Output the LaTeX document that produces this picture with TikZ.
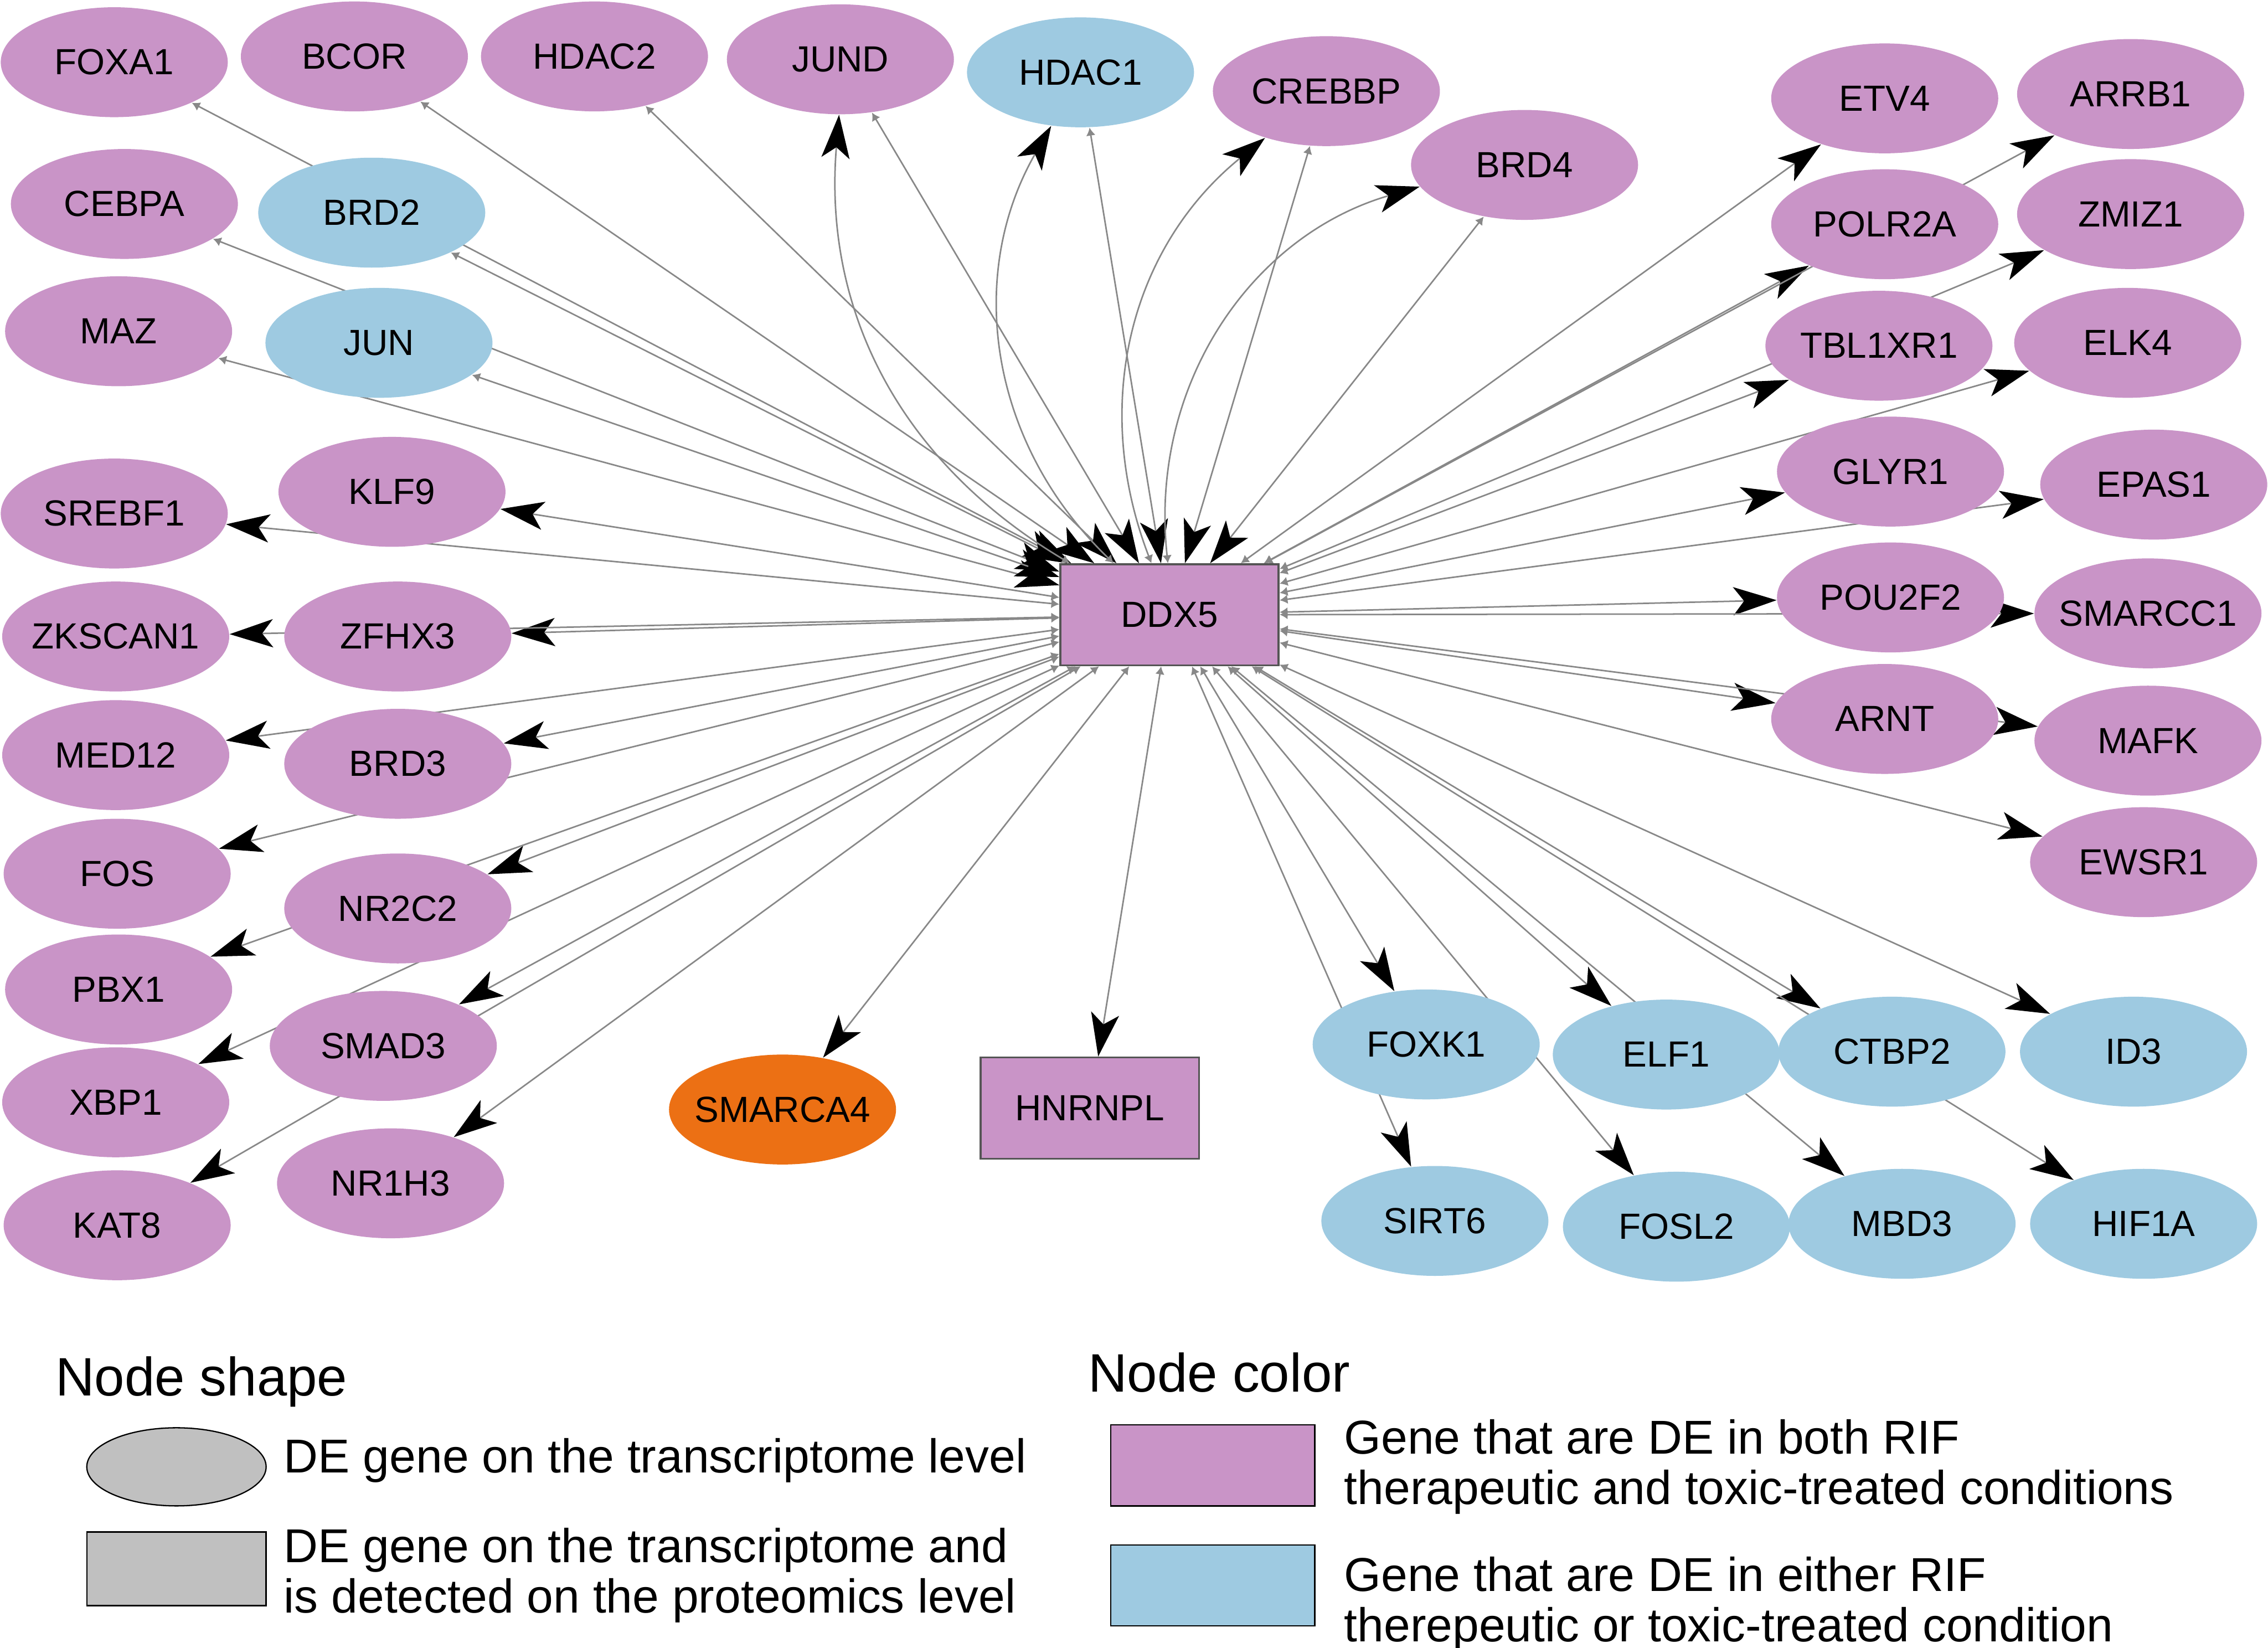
\documentclass[tikz,border=0pt]{standalone}
\usepackage{fontspec}
\setmainfont{Liberation Sans}
\usetikzlibrary{shapes.geometric, arrows.meta, backgrounds}
\definecolor{bothpurple}{RGB}{201, 148, 199}
\definecolor{eitherblue}{RGB}{158, 202, 225}
\definecolor{huborange}{RGB}{236, 112, 20}
\definecolor{linkgray}{RGB}{136, 136, 136}
\definecolor{legendgray}{RGB}{192, 192, 192}
\definecolor{borderdark}{RGB}{85, 85, 85}

\begin{document}
\begin{tikzpicture}[x=0.02cm, y=-0.02cm,
    gene/.style={ellipse, minimum width=3.14cm, minimum height=1.52cm, inner sep=0pt, font=\fontsize{14.3}{16}\selectfont},
    longname/.style={inner xsep=-1.3mm},
    prot/.style={rectangle, draw=borderdark, line width=0.75pt, minimum width=3.02cm, minimum height=1.4cm, inner sep=0pt, font=\fontsize{14.3}{16}\selectfont},
    both/.style={fill=bothpurple},
    either/.style={fill=eitherblue},
    link/.style={linkgray, line width=0.6pt, arrows={Latex[length=1.1mm, width=1.3mm]-Stealth[black, length=6mm, width=3.9mm, inset=1.5mm]}},
    legendhead/.style={inner sep=0pt, font=\fontsize{21.3}{24}\selectfont},
    legendtext/.style={inner sep=0pt, align=left, font=\fontsize{18.7}{19.9}\selectfont}]
    \useasboundingbox (0,0) rectangle (1568,1139);

    % Hub
    \node[prot, both] (ddx5) at (808.5,425) {DDX5};
    \node[prot, both] (hnrnpl) at (753.5,766) {HNRNPL};

    % Top rows
    \node[gene, both] (foxa1) at (79,43) {FOXA1};
    \node[gene, both] (bcor) at (245,39) {BCOR};
    \node[gene, both] (hdac2) at (411,39) {HDAC2};
    \node[gene, both] (jund) at (581,41) {JUND};
    \node[gene, either] (hdac1) at (747,50) {HDAC1};
    \node[gene, both] (crebbp) at (917,63) {CREBBP};
    \node[gene, both] (brd4) at (1054,114) {BRD4};
    \node[gene, both] (cebpa) at (86,141) {CEBPA};
    \node[gene, either] (brd2) at (257,147) {BRD2};
    \node[gene, both] (maz) at (82,229) {MAZ};
    \node[gene, either] (jun) at (262,237) {JUN};

    % Left side
    \node[gene, both] (srebf1) at (79,355) {SREBF1};
    \node[gene, both] (klf9) at (271,340) {KLF9};
    \node[gene, both, longname] (zkscan1) at (80,440) {ZKSCAN1};
    \node[gene, both] (zfhx3) at (275,440) {ZFHX3};
    \node[gene, both] (med12) at (80,522) {MED12};
    \node[gene, both] (brd3) at (275,528) {BRD3};
    \node[gene, both] (fos) at (81,604) {FOS};
    \node[gene, both] (nr2c2) at (275,628) {NR2C2};
    \node[gene, both] (pbx1) at (82,684) {PBX1};
    \node[gene, both] (smad3) at (265,723) {SMAD3};
    \node[gene, both] (xbp1) at (80,762) {XBP1};
    \node[gene, both] (kat8) at (81,847) {KAT8};
    \node[gene, both] (nr1h3) at (270,818) {NR1H3};
    \node[gene, longname, fill=huborange] (smarca4) at (541,767) {SMARCA4};

    % Right side
    \node[gene, both] (etv4) at (1303,68) {ETV4};
    \node[gene, both] (arrb1) at (1473,65) {ARRB1};
    \node[gene, both] (polr2a) at (1303,155) {POLR2A};
    \node[gene, both] (zmiz1) at (1473,148) {ZMIZ1};
    \node[gene, both] (tbl1xr1) at (1299,239) {TBL1XR1};
    \node[gene, both] (elk4) at (1471,237) {ELK4};
    \node[gene, both] (glyr1) at (1307,326) {GLYR1};
    \node[gene, both] (epas1) at (1489,335) {EPAS1};
    \node[gene, both] (pou2f2) at (1307,413) {POU2F2};
    \node[gene, both, longname] (smarcc1) at (1485,424) {SMARCC1};
    \node[gene, both] (arnt) at (1303,497) {ARNT};
    \node[gene, both] (mafk) at (1485,512) {MAFK};
    \node[gene, both] (ewsr1) at (1482,596) {EWSR1};

    % Bottom right
    \node[gene, either] (foxk1) at (986,722) {FOXK1};
    \node[gene, either] (elf1) at (1152,729) {ELF1};
    \node[gene, either] (ctbp2) at (1308,727) {CTBP2};
    \node[gene, either] (id3) at (1475,727) {ID3};
    \node[gene, either] (sirt6) at (992,844) {SIRT6};
    \node[gene, either] (fosl2) at (1159,848) {FOSL2};
    \node[gene, either] (mbd3) at (1315,846) {MBD3};
    \node[gene, either] (hif1a) at (1482,846) {HIF1A};

    % Links, under the nodes
    \begin{pgfonlayer}{background}
    % into DDX5
    \draw[link] (foxa1) -- (ddx5);
    \draw[link] (bcor) -- (ddx5);
    \draw[link] (hdac2) -- (ddx5);
    \draw[link] (jund) -- (ddx5);
    \draw[link] (hdac1) -- (ddx5);
    \draw[link] (crebbp) -- (ddx5);
    \draw[link] (brd4) -- (ddx5);
    \draw[link] (cebpa) -- (ddx5);
    \draw[link] (brd2) -- (ddx5);
    \draw[link] (maz) -- (ddx5);
    \draw[link] (jun) -- (ddx5);
    % back from DDX5, bent
    \draw[link] (ddx5) to[bend left=32] (jund);
    \draw[link] (ddx5) to[bend left=38] (hdac1);
    \draw[link] (ddx5) to[bend left=36] (crebbp);
    \draw[link] (ddx5) to[bend left=40] (brd4);
    % out of DDX5, left
    \draw[link] (ddx5) -- (klf9);
    \draw[link] (ddx5) -- (srebf1);
    \draw[link] (ddx5) -- (zfhx3);
    \draw[link] (ddx5) -- (zkscan1);
    \draw[link] (ddx5) -- (brd3);
    \draw[link] (ddx5) -- (med12);
    \draw[link] (ddx5) -- (fos);
    \draw[link] (ddx5) -- (nr2c2);
    \draw[link] (ddx5) -- (pbx1);
    \draw[link] (ddx5) -- (smad3);
    \draw[link] (ddx5) -- (xbp1);
    \draw[link] (ddx5) -- (kat8);
    \draw[link] (ddx5) -- (nr1h3);
    \draw[link] (ddx5) -- (smarca4);
    \draw[link] (ddx5) -- (hnrnpl);
    % out of DDX5, bottom right
    \draw[link] (ddx5) -- (foxk1);
    \draw[link] (ddx5) -- (sirt6);
    \draw[link] (ddx5) -- (fosl2);
    \draw[link] (ddx5) -- (elf1);
    \draw[link] (ddx5) -- (mbd3);
    \draw[link] (ddx5) -- (ctbp2);
    \draw[link] (ddx5) -- (hif1a);
    \draw[link] (ddx5) -- (id3);
    % out of DDX5, right
    \draw[link] (ddx5) -- (ewsr1);
    \draw[link] (ddx5) -- (arnt);
    \draw[link] (ddx5) -- (mafk);
    \draw[link] (ddx5) -- (pou2f2);
    \draw[link] (ddx5) -- (smarcc1);
    \draw[link] (ddx5) -- (glyr1);
    \draw[link] (ddx5) -- (epas1);
    \draw[link] (ddx5) -- (elk4);
    \draw[link] (ddx5) -- (tbl1xr1);
    \draw[link] (ddx5) -- (zmiz1);
    \draw[link] (ddx5) -- (polr2a);
    \draw[link] (ddx5) -- (arrb1);
    \draw[link] (ddx5) -- (etv4);
    \end{pgfonlayer}

    % Legend - node shape
    \node[legendhead, anchor=base west] (shapetitle) at (38,965) {Node shape};
    \node[ellipse, fill=legendgray, draw=black, line width=0.5pt, minimum width=2.48cm, minimum height=1.08cm] (shapegene) at (122,1014) {};
    \node[legendtext, anchor=base west] (shapegenetext) at (196,1018) {DE gene on the transcriptome level};
    \node[rectangle, fill=legendgray, draw=black, line width=0.5pt, minimum width=2.48cm, minimum height=1.02cm] (shapeprot) at (122,1084.5) {};
    \node[legendtext, anchor=west] (shapeprottext) at (196,1089) {DE gene on the transcriptome and\\is detected on the proteomics level};

    % Legend - node color
    \node[legendhead, anchor=base west] (colortitle) at (752,962) {Node color};
    \node[rectangle, fill=bothpurple, draw=black, line width=0.5pt, minimum width=2.82cm, minimum height=1.12cm] (colorboth) at (838.5,1013) {};
    \node[legendtext, anchor=west] (colorbothtext) at (929,1014) {Gene that are DE in both RIF\\therapeutic and toxic-treated conditions};
    \node[rectangle, fill=eitherblue, draw=black, line width=0.5pt, minimum width=2.82cm, minimum height=1.12cm] (coloreither) at (838.5,1096) {};
    \node[legendtext, anchor=west] (coloreithertext) at (929,1109) {Gene that are DE in either RIF\\therepeutic or toxic-treated condition};
\end{tikzpicture}
\end{document}
